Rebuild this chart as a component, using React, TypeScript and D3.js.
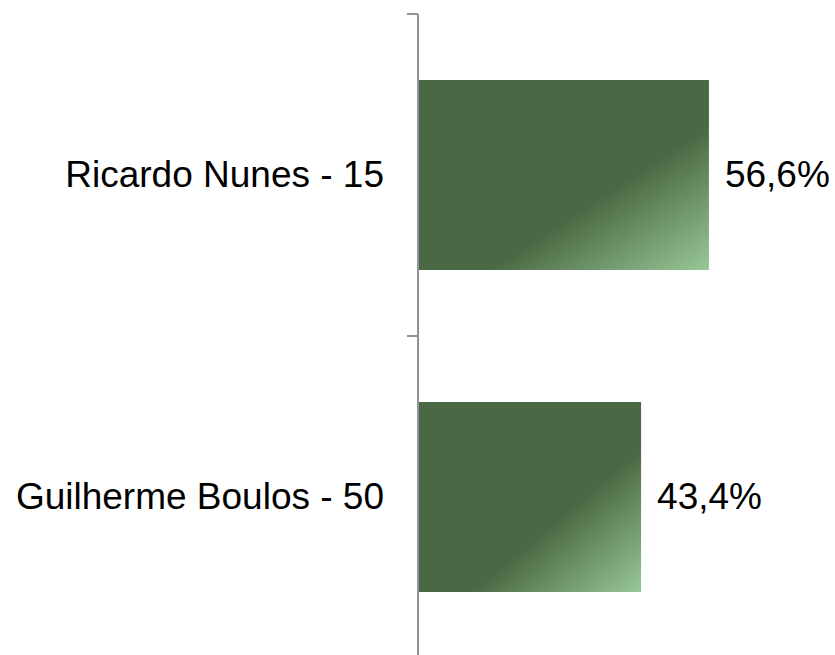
import React, { useEffect, useRef } from "react";
import * as d3 from "d3";

const candidates = ["Ricardo Nunes - 15", "Guilherme Boulos - 50"];
const shares = [56.6, 43.4];
const shareLabels = ["56,6%", "43,4%"];

const W = 835;
const H = 655;

export default function App() {
  const ref = useRef<SVGSVGElement>(null);

  useEffect(() => {
    const svg = d3.select(ref.current);
    svg.selectAll("*").remove();

    const axisX = 418;
    const x = d3.scaleLinear().domain([0, 100]).range([axisX, axisX + 514]);
    const y = d3
      .scaleBand<string>()
      .domain(candidates)
      .range([14, 658])
      .paddingInner(0.41)
      .paddingOuter(0.205);

    // excel style diagonal gradient
    const grad = svg
      .append("defs")
      .append("linearGradient")
      .attr("id", "barGrad")
      .attr("x1", 0)
      .attr("y1", 0)
      .attr("x2", 1)
      .attr("y2", 1);
    grad.append("stop").attr("offset", "0%").attr("stop-color", "#4a6843");
    grad.append("stop").attr("offset", "62%").attr("stop-color", "#4a6843");
    grad.append("stop").attr("offset", "100%").attr("stop-color", "#98c899");

    const data = candidates.map((c, i) => ({ name: c, value: shares[i], label: shareLabels[i] }));

    svg
      .selectAll("rect.bar")
      .data(data)
      .join("rect")
      .attr("class", "bar")
      .attr("x", x(0))
      .attr("y", (d) => y(d.name)!)
      .attr("width", (d) => x(d.value) - x(0))
      .attr("height", y.bandwidth())
      .attr("fill", "url(#barGrad)");

    // axis line with ticks on band boundaries
    const edges = candidates.map((c) => y(c)! - (y.step() * y.paddingInner()) / 2);
    edges.push(658);
    svg
      .append("line")
      .attr("x1", axisX)
      .attr("x2", axisX)
      .attr("y1", 14)
      .attr("y2", H)
      .attr("stroke", "#8e939b")
      .attr("stroke-width", 2);
    svg
      .selectAll("line.tick")
      .data(edges)
      .join("line")
      .attr("class", "tick")
      .attr("x1", axisX - 11)
      .attr("x2", axisX)
      .attr("y1", (d) => d)
      .attr("y2", (d) => d)
      .attr("stroke", "#8e939b")
      .attr("stroke-width", 2);

    svg
      .selectAll("text.cat")
      .data(data)
      .join("text")
      .attr("class", "cat")
      .attr("x", 384)
      .attr("y", (d) => y(d.name)! + y.bandwidth() / 2 + 12)
      .attr("text-anchor", "end")
      .style("font", "37px 'Liberation Sans', Arial, sans-serif")
      .attr("fill", "#000")
      .text((d) => d.name);

    svg
      .selectAll("text.val")
      .data(data)
      .join("text")
      .attr("class", "val")
      .attr("x", (d) => x(d.value) + 16)
      .attr("y", (d) => y(d.name)! + y.bandwidth() / 2 + 12)
      .style("font", "37px 'Liberation Sans', Arial, sans-serif")
      .attr("fill", "#000")
      .text((d) => d.label);
  }, []);

  return (
    <svg
      ref={ref}
      width={W}
      height={H}
      style={{ position: "absolute", left: 0, top: 0, background: "#fff" }}
    />
  );
}
